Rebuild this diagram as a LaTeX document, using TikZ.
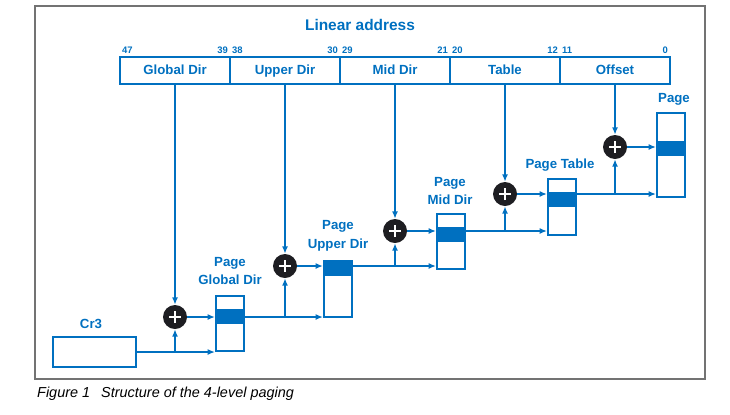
\documentclass[tikz,border=0pt]{standalone}
\usepackage{fontspec}
\setmainfont{Liberation Sans}
\usepackage{tikz}
\usetikzlibrary{arrows.meta,positioning}

\definecolor{lablue}{RGB}{0,112,192}
\definecolor{addgray}{RGB}{30,30,34}

\tikzset{
  addrfield/.style={draw=lablue, line width=1.9bp, minimum width=110bp, minimum height=27bp,
    inner sep=0, outer sep=0, text height=9.5bp, text depth=2.5bp, text=lablue,
    font=\bfseries\fontsize{13.3}{15}\selectfont},
  bitno/.style={text=lablue, inner xsep=2bp, inner ysep=3.5bp, font=\bfseries\fontsize{9.5}{11}\selectfont},
  tablebox/.style={draw=lablue, line width=1.9bp, minimum width=28bp, inner sep=0},
  tlabel/.style={text=lablue, align=center, font=\bfseries\fontsize{13.3}{19}\selectfont},
  adder/.style={circle, fill=addgray, minimum size=24bp, inner sep=0,
    path picture={\draw[white, line width=1.7bp]
      ([xshift=-6bp]path picture bounding box.center) -- ([xshift=6bp]path picture bounding box.center)
      ([yshift=-6bp]path picture bounding box.center) -- ([yshift=6bp]path picture bounding box.center);}},
  link/.style={draw=lablue, line width=1.9bp, -{Latex[length=7.5bp,width=6bp]}}
}

\begin{document}
\begin{tikzpicture}[x=1bp,y=-1bp, node distance=0bp]
\useasboundingbox (0,0) rectangle (730,414);
\draw[gray!90!black, line width=1.4bp] (35,6) rectangle (705,379);

% linear address
\node[text=lablue, font=\bfseries\fontsize{15.5}{18}\selectfont] (title) at (360,25) {Linear address};
\node[addrfield] (addr1) at (175,70.5) {Global Dir};
\node[addrfield, right=of addr1] (addr2) {Upper Dir};
\node[addrfield, right=of addr2] (addr3) {Mid Dir};
\node[addrfield, right=of addr3] (addr4) {Table};
\node[addrfield, right=of addr4] (addr5) {Offset};

\node[bitno, anchor=south west] (b47) at (addr1.north west) {47};
\node[bitno, anchor=south east] (b39) at (addr1.north east) {39};
\node[bitno, anchor=south west] (b38) at (addr2.north west) {38};
\node[bitno, anchor=south east] (b30) at (addr2.north east) {30};
\node[bitno, anchor=south west] (b29) at (addr3.north west) {29};
\node[bitno, anchor=south east] (b21) at (addr3.north east) {21};
\node[bitno, anchor=south west] (b20) at (addr4.north west) {20};
\node[bitno, anchor=south east] (b12) at (addr4.north east) {12};
\node[bitno, anchor=south west] (b11) at (addr5.north west) {11};
\node[bitno, anchor=south east] (b0) at (addr5.north east) {0};

% cr3 and tables
\node[tablebox, minimum width=83bp, minimum height=30bp] (cr3) at (94.5,352) {};
\node[tlabel] (cr3lbl) at (91,324) {Cr3};

\fill[lablue] (216,309) rectangle (244,324);
\node[tablebox, minimum height=55bp] (pgd) at (230,323.5) {};
\fill[lablue] (324,261) rectangle (352,276);
\node[tablebox, minimum height=56bp] (pud) at (338,289) {};
\fill[lablue] (437,227) rectangle (465,242);
\node[tablebox, minimum height=55bp] (pmd) at (451,241.5) {};
\fill[lablue] (548,192) rectangle (576,207);
\node[tablebox, minimum height=56bp] (pt) at (562,207) {};
\fill[lablue] (657,141) rectangle (685,156);
\node[tablebox, minimum height=84bp] (pg) at (671,155) {};

\node[tlabel] (pgdlbl) at (230,271) {Page\\Global Dir};
\node[tlabel] (pudlbl) at (338,236) {Page\\Upper Dir};
\node[tlabel] (pmdlbl) at (450,191) {Page\\Mid Dir};
\node[tlabel] (ptlbl) at (560,165) {Page Table};
\node[tlabel] (pglbl) at (674,99) {Page};

% adders
\node[adder] (a1) at (addr1.south |- 0,317) {};
\node[adder] (a2) at (addr2.south |- 0,266) {};
\node[adder] (a3) at (addr3.south |- 0,231) {};
\node[adder] (a4) at (addr4.south |- 0,194) {};
\node[adder] (a5) at (addr5.south |- 0,147) {};

\draw[link] (addr1.south) -- (a1);
\draw[link] (addr2.south) -- (a2);
\draw[link] (addr3.south) -- (a3);
\draw[link] (addr4.south) -- (a4);
\draw[link] (addr5.south) -- (a5);

% base inputs
\coordinate (j1) at (a1 |- cr3.east);
\draw[link] (cr3.east) -- (cr3.east -| pgd.west);
\draw[link] (j1) -- (a1);
\draw[link] (a1) -- (a1 -| pgd.west);

\coordinate (o1) at (pgd.east |- a1);
\coordinate (j2) at (a2 |- o1);
\draw[link] (o1) -- (o1 -| pud.west);
\draw[link] (j2) -- (a2);
\draw[link] (a2) -- (a2 -| pud.west);

\coordinate (o2) at (pud.east |- a2);
\coordinate (j3) at (a3 |- o2);
\draw[link] (o2) -- (o2 -| pmd.west);
\draw[link] (j3) -- (a3);
\draw[link] (a3) -- (a3 -| pmd.west);

\coordinate (o3) at (pmd.east |- a3);
\coordinate (j4) at (a4 |- o3);
\draw[link] (o3) -- (o3 -| pt.west);
\draw[link] (j4) -- (a4);
\draw[link] (a4) -- (a4 -| pt.west);

\coordinate (o4) at (pt.east |- a4);
\coordinate (j5) at (a5 |- o4);
\draw[link] (o4) -- (o4 -| pg.west);
\draw[link] (j5) -- (a5);
\draw[link] (a5) -- (a5 -| pg.west);

\node[anchor=base west, inner sep=0, font=\itshape\fontsize{14.5}{17}\selectfont] (caption) at (37,397)
  {Figure 1\hspace{11bp}Structure of the 4-level paging};
\end{tikzpicture}
\end{document}
